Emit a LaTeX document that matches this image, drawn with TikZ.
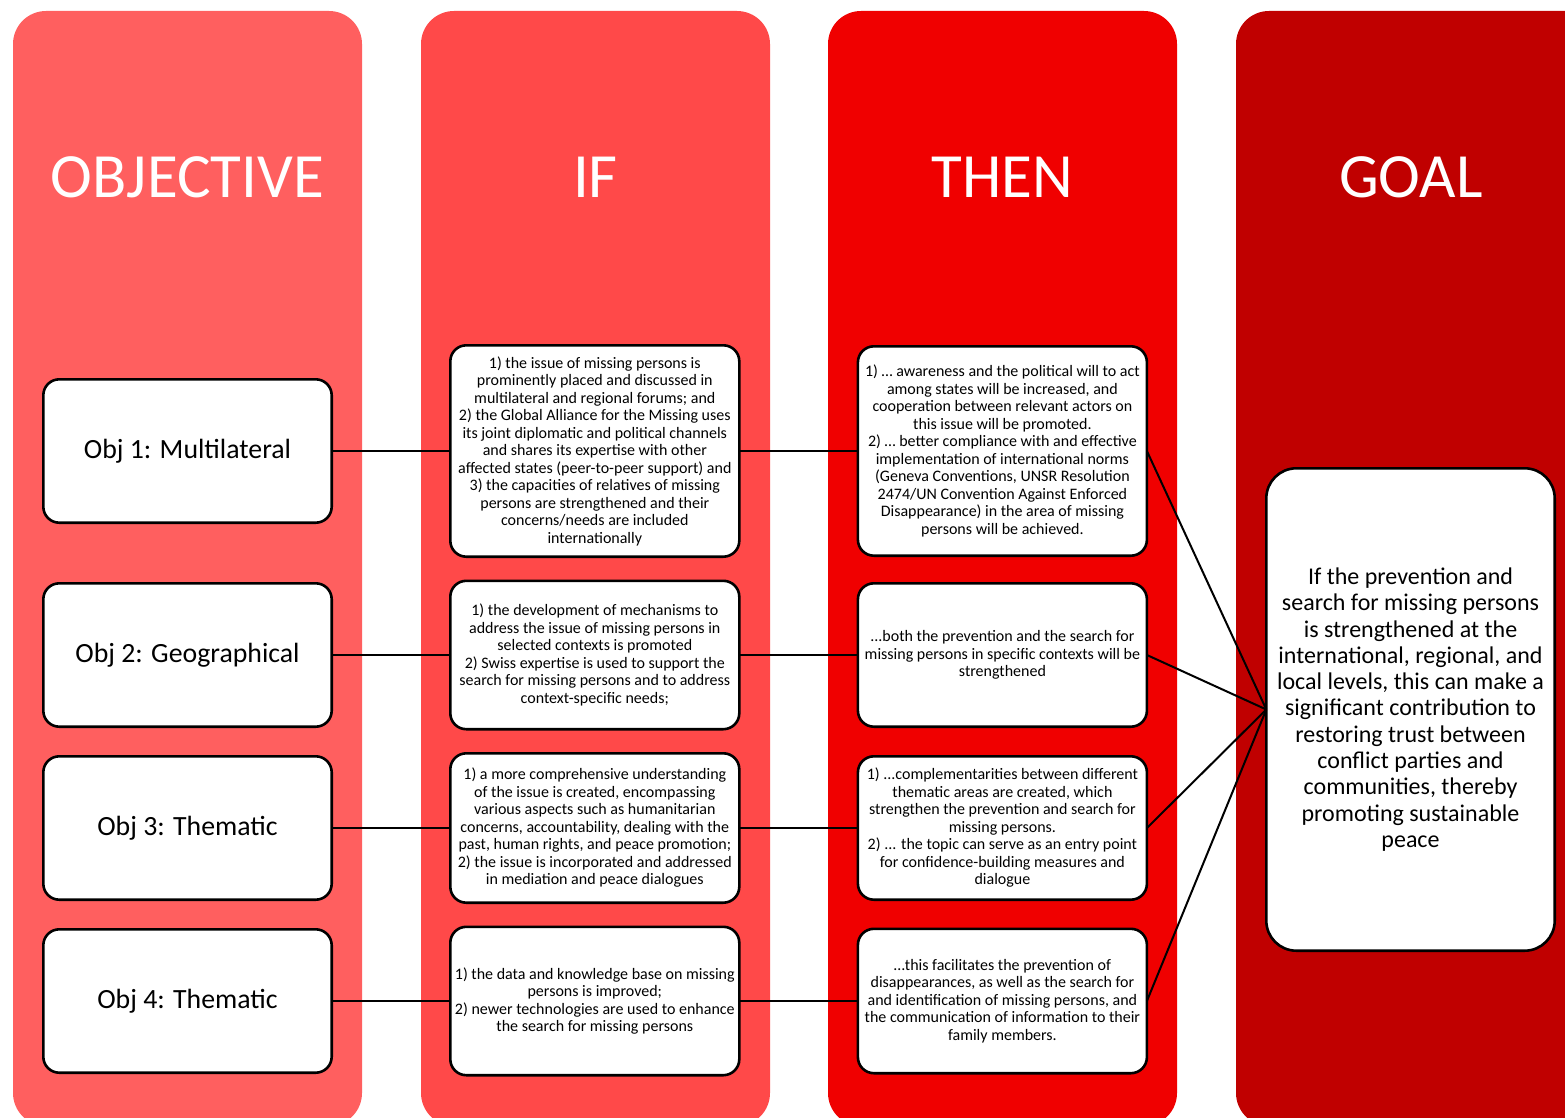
\documentclass[tikz,border=0pt]{standalone}
\usepackage{fontspec}
\setmainfont{Carlito}
\usetikzlibrary{positioning}

\definecolor{objred}{RGB}{255,95,95}
\definecolor{ifred}{RGB}{255,73,73}
\definecolor{thenred}{RGB}{240,0,0}
\definecolor{goalred}{RGB}{192,0,0}

\begin{document}
\begin{tikzpicture}[
    x=1pt, y=-1pt,
    column/.style={rounded corners=33pt},
    head/.style={text=white, font=\fontsize{63}{68}\selectfont},
    objbox/.style={draw, line width=2.6pt, outer sep=0pt, rounded corners=16pt, fill=white, minimum width=288.4pt, minimum height=143.4pt, font=\fontsize{27.8}{32}\selectfont},
    txtbox/.style={draw, line width=2.6pt, outer sep=0pt, rounded corners=16pt, fill=white, align=center, inner sep=2pt, minimum width=289pt, minimum height=148.4pt, font=\fontsize{16}{17.5}\selectfont},
    goalbox/.style={draw, line width=2.6pt, outer sep=0pt, rounded corners=30pt, fill=white, align=center, minimum width=288.4pt, minimum height=482.4pt, font=\fontsize{24}{26.3}\selectfont},
    link/.style={line width=2pt}
]
\useasboundingbox (0,0) rectangle (1565,1118);

% four coloured columns, cut off at the bottom
\begin{scope}
\clip (0,0) rectangle (1565,1118);
\fill[objred, column] (13,11) rectangle (362,1126);
\fill[ifred, column] (421,11) rectangle (770,1126);
\fill[thenred, column] (828,11) rectangle (1177,1126);
\fill[goalred, column] (1236,11) rectangle (1610,1126);
\end{scope}

\node[head] (hobj) at (187.5,177) {OBJECTIVE};
\node[head] (hif) at (595.5,177) {IF};
\node[head] (hthen) at (1002.5,177) {THEN};
\node[head] (hgoal) at (1411,177) {GOAL};

% objectives
\node[objbox] (o1) at (187.5,451) {Obj 1: Multilateral};
\node[objbox, below=60.6pt of o1] (o2) {Obj 2: Geographical};
\node[objbox, below=29.6pt of o2] (o3) {Obj 3: Thematic};
\node[objbox, below=29.6pt of o3] (o4) {Obj 4: Thematic};

% if
\node[txtbox, minimum height=211.4pt, right=118.6pt of o1] (i1) {1) the issue of missing persons is\\prominently placed and discussed in\\multilateral and regional forums; and\\2) the Global Alliance for the Missing uses\\its joint diplomatic and political channels\\and shares its expertise with other\\affected states (peer-to-peer support) and\\3) the capacities of relatives of missing\\persons are strengthened and their\\concerns/needs are included\\internationally};
\node[txtbox, right=118.6pt of o2] (i2) {1) the development of mechanisms to\\address the issue of missing persons in\\selected contexts is promoted\\2) Swiss expertise is used to support the\\search for missing persons and to address\\context-specific needs;};
\node[txtbox, minimum height=149.4pt, right=118.6pt of o3] (i3) {1) a more comprehensive understanding\\of the issue is created, encompassing\\various aspects such as humanitarian\\concerns, accountability, dealing with the\\past, human rights, and peace promotion;\\2) the issue is incorporated and addressed\\in mediation and peace dialogues};
\node[txtbox, right=118.6pt of o4] (i4) {1) the data and knowledge base on missing\\persons is improved;\\2) newer technologies are used to enhance\\the search for missing persons};

% then
\node[txtbox, minimum height=209.4pt, right=118.6pt of i1] (t1) {1) … awareness and the political will to act\\among states will be increased, and\\cooperation between relevant actors on\\this issue will be promoted.\\2) … better compliance with and effective\\implementation of international norms\\(Geneva Conventions, UNSR Resolution\\2474/UN Convention Against Enforced\\Disappearance) in the area of missing\\persons will be achieved.};
\node[txtbox, minimum height=143.4pt, right=118.6pt of i2] (t2) {...both the prevention and the search for\\missing persons in specific contexts will be\\strengthened};
\node[txtbox, minimum height=143.4pt, right=118.6pt of i3] (t3) {1) ...complementarities between different\\thematic areas are created, which\\strengthen the prevention and search for\\missing persons.\\2) ... the topic can serve as an entry point\\for confidence-building measures and\\dialogue};
\node[txtbox, minimum height=144.4pt, right=118.6pt of i4] (t4) {…this facilitates the prevention of\\disappearances, as well as the search for\\and identification of missing persons, and\\the communication of information to their\\family members.};

% goal
\node[goalbox] (g) at (1410.5,709.5) {If the prevention and\\search for missing persons\\is strengthened at the\\international, regional, and\\local levels, this can make a\\significant contribution to\\restoring trust between\\conflict parties and\\communities, thereby\\promoting sustainable\\peace};

\foreach \n in {1,...,4} {
  \draw[link] (o\n) -- (i\n);
  \draw[link] (i\n) -- (t\n);
  \draw[link] (t\n.east) -- (g.west);
}
\end{tikzpicture}
\end{document}
